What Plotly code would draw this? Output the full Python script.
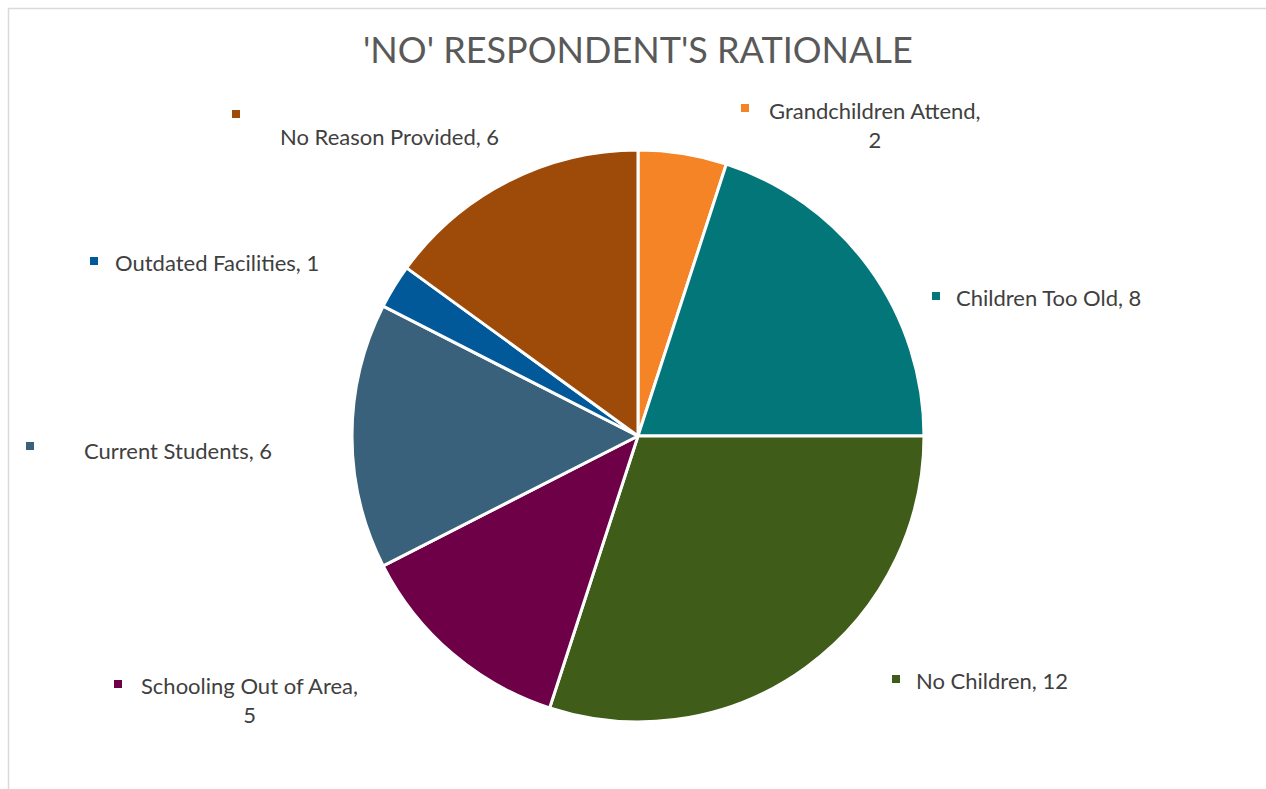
import plotly.graph_objects as go

W, H = 1266, 789

# Survey responses: reasons given by "No" respondents
categories = ["Grandchildren Attend", "Children Too Old", "No Children",
              "Schooling Out of Area", "Current Students",
              "Outdated Facilities", "No Reason Provided"]
counts = [2, 8, 12, 5, 6, 1, 6]
colors = ["#F58426", "#03767A", "#3F5D18", "#6D0046",
          "#3A617B", "#02599A", "#9E4A08"]

# Label text lines (line breaks where the label wraps)
label_lines = {
    "Grandchildren Attend": ["Grandchildren Attend,", "{v}"],
    "Schooling Out of Area": ["Schooling Out of Area,", "{v}"],
}

# Label placement in pixels: (marker x, marker y, text x, text y, anchor)
label_pos = {
    "Grandchildren Attend": (745, 108, 875, 125, "center"),
    "Children Too Old": (936, 296, 954, 297, "left"),
    "No Children": (896, 679, 914, 680, "left"),
    "Schooling Out of Area": (118, 684, 249, 700, "center"),
    "Current Students": (30, 446, 82, 450, "left"),
    "Outdated Facilities": (94, 261, 113, 263, "left"),
    "No Reason Provided": (236, 114, 278, 136, "left"),
}

cx, cy, r = 638, 436, 286


def px(x):
    return x / W


def py(y):
    return 1 - y / H


fig = go.Figure(go.Pie(
    labels=categories,
    values=counts,
    sort=False,
    direction="clockwise",
    rotation=0,
    marker=dict(colors=colors, line=dict(color="white", width=3)),
    textinfo="none",
    hoverinfo="label+value",
    domain=dict(x=[px(cx - r), px(cx + r)], y=[py(cy + r), py(cy - r)]),
    showlegend=False,
))

shapes = [
    # chart frame
    dict(type="rect", xref="paper", yref="paper",
         x0=px(8.5), x1=px(W + 10), y0=py(H + 10), y1=py(8.5),
         line=dict(color="#D9D9D9", width=1.5), fillcolor="rgba(0,0,0,0)"),
]
annotations = [
    dict(text="'NO' RESPONDENT'S RATIONALE", x=px(cx), y=py(49),
         xref="paper", yref="paper", showarrow=False,
         font=dict(family="Lato", size=36, color="#595959"),
         xanchor="center", yanchor="middle"),
]

for cat, val, col in zip(categories, counts, colors):
    mx, my, tx, ty, anchor = label_pos[cat]
    s = 4
    shapes.append(dict(type="rect", xref="paper", yref="paper",
                       x0=px(mx - s), x1=px(mx + s), y0=py(my + s), y1=py(my - s),
                       line=dict(width=0), fillcolor=col))
    lines = label_lines.get(cat, [cat + ", {v}"])
    text = "<br>".join(l.format(v=val) for l in lines)
    annotations.append(dict(
        text=text, x=px(tx), y=py(ty), xref="paper", yref="paper",
        showarrow=False, align="center",
        xanchor="left" if anchor == "left" else "center", yanchor="middle",
        font=dict(family="Lato", size=22, color="#404040"),
    ))

fig.update_layout(
    width=W, height=H,
    margin=dict(l=0, r=0, t=0, b=0),
    paper_bgcolor="white",
    plot_bgcolor="white",
    shapes=shapes,
    annotations=annotations,
)

fig.write_html("out.html")
